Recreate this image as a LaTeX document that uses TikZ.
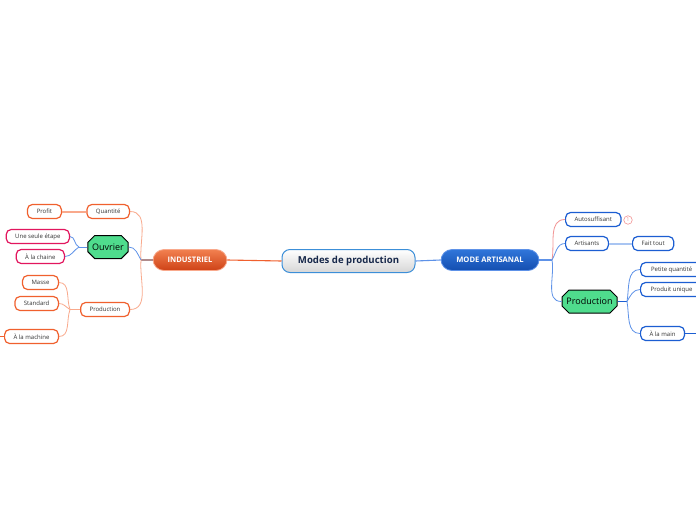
\documentclass[tikz,border=0pt]{standalone}
\usepackage{fontspec}
\setmainfont{Open Sans}
\usetikzlibrary{shapes.misc}
\definecolor{indline}{HTML}{F0602E}
\definecolor{indsoft}{HTML}{F9A98C}
\definecolor{indtop}{HTML}{F28050}
\definecolor{indbot}{HTML}{CE4216}
\definecolor{stubgray}{HTML}{B08C8C}
\definecolor{crimson}{HTML}{E2165E}
\definecolor{artline}{HTML}{1C5ED2}
\definecolor{artsoft}{HTML}{5E92E8}
\definecolor{artpale}{HTML}{A9C5F2}
\definecolor{arttop}{HTML}{3076DA}
\definecolor{artbot}{HTML}{144EB0}
\definecolor{rootline}{HTML}{3C8FD8}
\definecolor{pinksoft}{HTML}{F29494}
\definecolor{hexgreen}{HTML}{4FDC8D}
\definecolor{navytext}{HTML}{17284A}
\tikzset{
  leaf/.style={draw=#1, line width=1.2pt, rounded corners=5pt, fill=white,
    text=black!80, font=\fontsize{6}{7}\selectfont,
    minimum height=14pt, minimum width=34pt, inner xsep=9pt, inner ysep=0pt},
  hexa/.style={chamfered rectangle, chamfered rectangle xsep=3.5pt, draw=black,
    line width=1pt, fill=hexgreen, font=\fontsize{9}{10}\selectfont,
    minimum height=23pt, inner xsep=1pt, inner ysep=0pt},
  link/.style={draw=#1, line width=0.8pt},
}
\begin{document}
\begin{tikzpicture}[x=1pt,y=-1pt]
\clip (0,0) rectangle (696,520);
\fill[white] (0,0) rectangle (696,520);
% centre
\node[draw=rootline, line width=1pt, rounded corners=8pt,
  top color=white, bottom color=black!16, text=navytext,
  font=\bfseries\fontsize{9.6}{10}\selectfont, minimum width=133pt, minimum height=23pt]
  (root) at (348.5,261) {Modes de production};
\node[draw=indsoft, line width=0.8pt, rounded corners=11pt,
  top color=indtop, bottom color=indbot,
  text=white, font=\bfseries\fontsize{7.6}{8}\selectfont, minimum width=74pt, minimum height=21pt]
  (indus) at (190,260) {INDUSTRIEL};
\node[draw=artsoft, line width=0.8pt, rounded corners=11pt,
  top color=arttop, bottom color=artbot,
  text=white, font=\bfseries\fontsize{7.6}{8}\selectfont, minimum width=98pt, minimum height=21pt]
  (artis) at (490,260) {MODE ARTISANAL};
\draw[indline, line width=1.1pt] (root.west) -- (indus.east);
\draw[artsoft, line width=1.1pt] (root.east) -- (artis.west);
% industriel
\coordinate (jI) at (141,260);
\node[leaf=indline, anchor=east] (quan) at (130,211.5) {Quantité};
\node[leaf=indline, anchor=east] (profit) at (62,211.5) {Profit};
\node[hexa, minimum width=38pt] (ouvrier) at (108,247) {Ouvrier};
\node[leaf=crimson, anchor=east] (etape) at (70,236.5) {Une seule étape};
\node[leaf=crimson, anchor=east] (chaine) at (65,256.5) {À la chaine};
\node[leaf=indline, anchor=east] (prodI) at (130,309.5) {Production};
\node[leaf=indline, anchor=east] (masse) at (59,282.5) {Masse};
\node[leaf=indline, anchor=east] (standard) at (59,303.5) {Standard};
\node[leaf=indline, anchor=east] (machine) at (59,336.5) {À la machine};
\coordinate (jO) at (79,247);
\coordinate (jPI) at (70,309.5);
\coordinate (outL) at (0,336.5);
\draw[link=stubgray, line width=1.1pt] (indus.west) -- (jI);
\draw[link=indsoft] (jI) to[out=95,in=0] (quan.east);
\draw[link=artsoft] (jI) to[out=120,in=0] (ouvrier.east);
\draw[link=indsoft] (jI) to[out=-95,in=0] (prodI.east);
\draw[indsoft, line width=2pt] (quan.west) -- (profit.east);
\draw[link=artsoft] (ouvrier.west) -- (jO);
\draw[link=artsoft] (jO) to[out=160,in=0] (etape.east);
\draw[link=artsoft] (jO) to[out=-150,in=0] (chaine.east);
\draw[link=indsoft] (prodI.west) -- (jPI);
\draw[link=indsoft] (jPI) to[out=110,in=0] (masse.east);
\draw[link=indsoft] (jPI) to[out=150,in=0] (standard.east);
\draw[link=indsoft] (jPI) to[out=-110,in=0] (machine.east);
\draw[link=indline] (machine.west) -- (outL);
% mode artisanal
\coordinate (jA) at (552,260);
\node[leaf=artline, anchor=west] (auto) at (565,219.5) {Autosuffisant};
\node[draw=pinksoft, circle, line width=0.6pt, inner sep=0pt, minimum size=8.5pt,
  text=pinksoft, font=\fontsize{5.5}{6}\selectfont] (badge) at (628,220) {1};
\node[leaf=artline, anchor=west] (artisants) at (565,243.5) {Artisants};
\node[leaf=artline, anchor=west] (fait) at (632,243.5) {Fait tout};
\node[hexa, minimum width=49pt] (prodA) at (589.5,301.5) {Production};
\node[leaf=artline, anchor=west, minimum width=62pt] (petite) at (640,269.5) {Petite quantité};
\node[leaf=artline, anchor=west, minimum width=62pt] (unique) at (640,289.5) {Produit unique};
\node[leaf=artline, anchor=west] (main) at (640,333.5) {À la main};
\coordinate (jPA) at (627,301.5);
\coordinate (outR) at (696,333.5);
\draw[link=artsoft, line width=1.1pt] (artis.east) -- (jA);
\draw[link=pinksoft] (jA) to[out=80,in=180] (auto.west);
\draw[link=artsoft] (jA) to[out=60,in=180] (artisants.west);
\draw[link=artsoft] (jA) to[out=-80,in=180] (prodA.west);
\draw[artpale, line width=2pt] (artisants.east) -- (fait.west);
\draw[link=artline] (prodA.east) -- (jPA);
\draw[link=artsoft] (jPA) to[out=80,in=180] (petite.west);
\draw[link=artsoft] (jPA) to[out=60,in=180] (unique.west);
\draw[link=artsoft] (jPA) to[out=-80,in=180] (main.west);
\draw[link=artline] (main.east) -- (outR);
\end{tikzpicture}
\end{document}
